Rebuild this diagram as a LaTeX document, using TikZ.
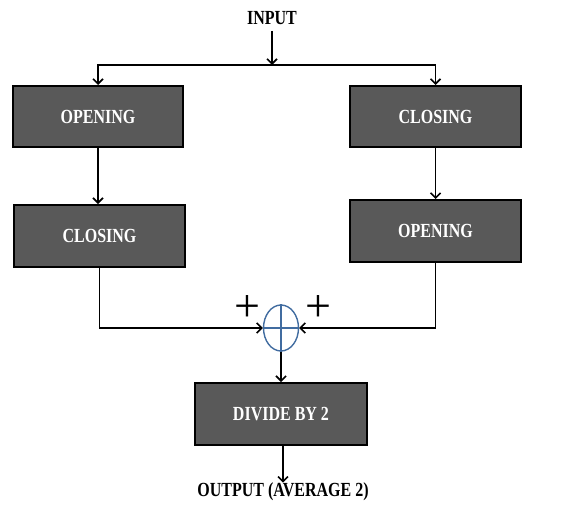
\documentclass[tikz,border=0pt]{standalone}
\usepackage{fontspec}
\setmainfont{Liberation Serif}
\usetikzlibrary{arrows.meta,shapes.geometric}
\definecolor{boxgray}{RGB}{89,89,89}
\definecolor{sumblue}{RGB}{65,108,160}
\newcommand{\narrow}[1]{\scalebox{0.8}[1]{#1}}
\tikzset{
  blockbox/.style={draw=black,line width=2pt,fill=boxgray,minimum height=61pt,inner sep=0pt,
    text=white,font=\fontsize{20}{23}\selectfont\bfseries},
  label/.style={inner sep=0pt,font=\fontsize{20}{23}\selectfont\bfseries},
  conn/.style={line width=1.8pt,-{Straight Barb[length=5pt,width=10pt,line width=1.6pt]}},
  sumnode/.style={draw=sumblue,ellipse,line width=1.4pt,minimum width=35pt,minimum height=46pt,inner sep=0pt},
  plussign/.style={inner sep=0pt,font=\fontsize{46}{50}\selectfont}
}
\begin{document}
\begin{tikzpicture}[x=1pt,y=-1pt]
\useasboundingbox (0,0) rectangle (577,506);
\node[label] (input) at (272,18) {\narrow{INPUT}};
\coordinate (split) at (272,65);
\node[blockbox,minimum width=170pt] (op1) at (98,116.5) {\narrow{OPENING}};
\node[blockbox,minimum width=171pt] (cl1) at (435.5,116.5) {\narrow{CLOSING}};
\node[blockbox,minimum width=171pt,minimum height=62pt] (cl2) at (99.5,236) {\narrow{CLOSING}};
\node[blockbox,minimum width=171pt,minimum height=62pt] (op2) at (435.5,231) {\narrow{OPENING}};
\node[sumnode] (sum) at (281,328) {};
\draw[sumblue,line width=1.4pt] (sum.north) -- (sum.south) (sum.west) -- (sum.east);
\node[plussign] (p1) at (247,308) {+};
\node[plussign] (p2) at (318,308) {+};
\node[blockbox,minimum width=172pt,minimum height=62pt] (div) at (281,414) {\narrow{DIVIDE BY 2}};
\node[label] (output) at (283,492) {\narrow{OUTPUT (AVERAGE 2)}};

\draw[conn] (input.south) ++(0,6) -- (split);
\draw[conn] (split) -| (op1.north);
\draw[conn] (split) -| (cl1.north);
\draw[conn] (op1.south) -- (op1.south |- cl2.north);
\draw[conn] (cl1.south) -- (cl1.south |- op2.north);
\draw[conn] (cl2.south) |- (sum.west);
\draw[conn] (op2.south) |- (sum.east);
\draw[conn] (sum.south) -- (div.north);
\draw[conn] (div.south -| output.north) -- (output.north);
\end{tikzpicture}
\end{document}
